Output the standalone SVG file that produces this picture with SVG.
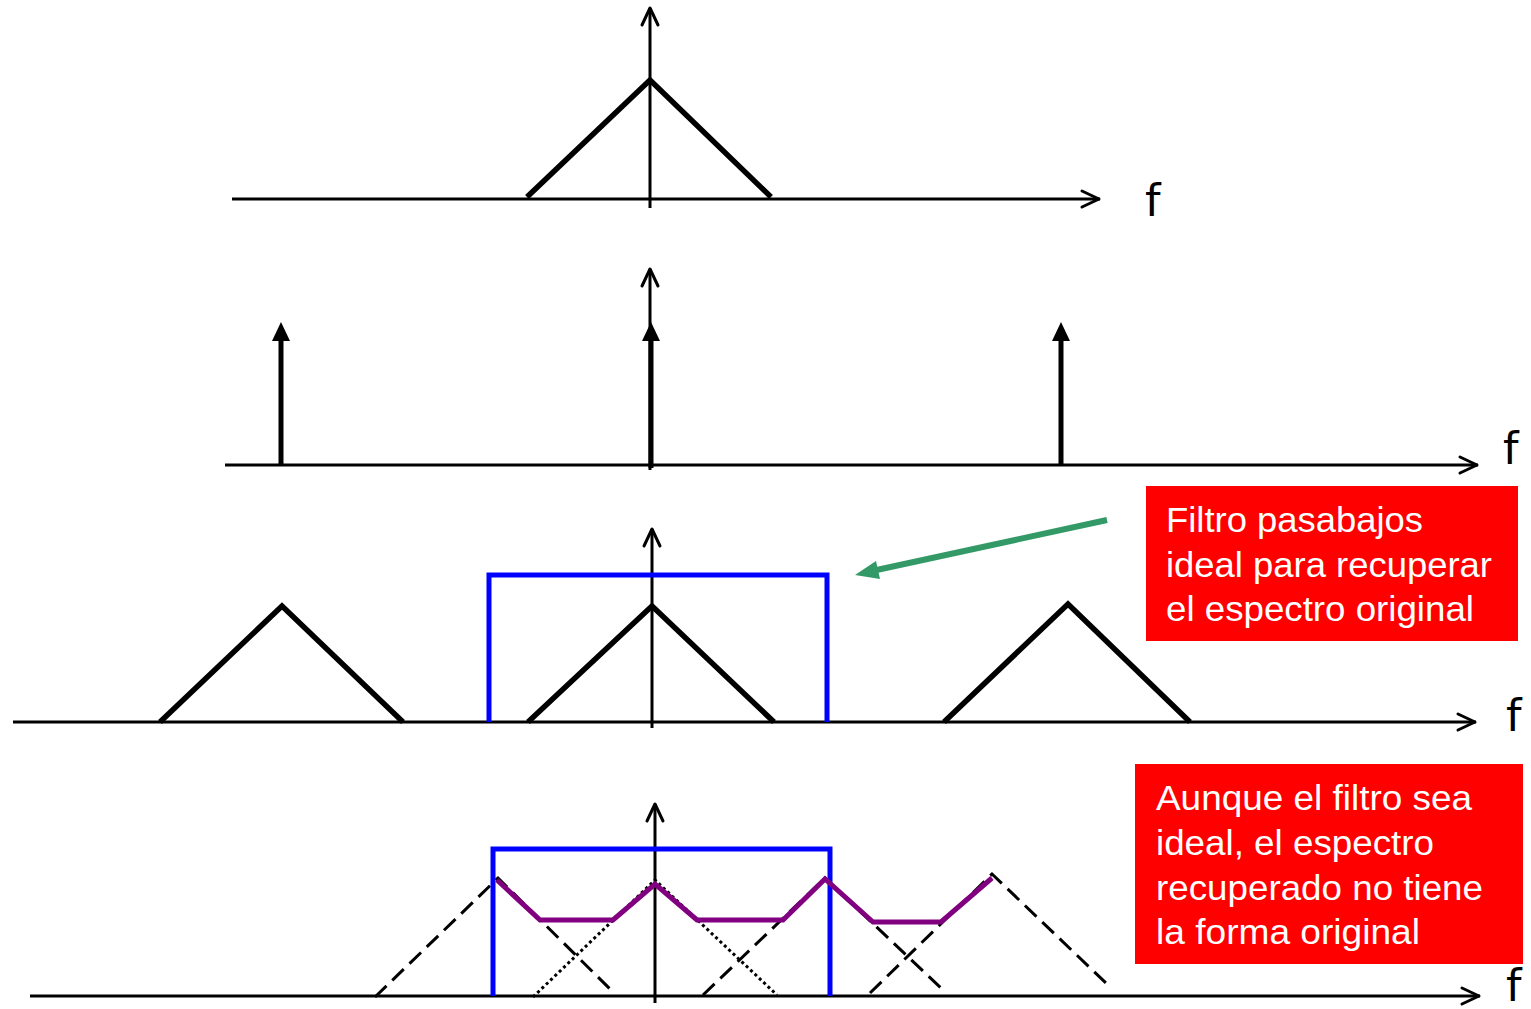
<svg xmlns="http://www.w3.org/2000/svg" width="1531" height="1009" viewBox="0 0 1531 1009">
<style>
.ax{stroke:#000;stroke-width:3;fill:none}
.hd{stroke:#000;stroke-width:3;fill:none;stroke-linecap:round;stroke-linejoin:round}
.tri{stroke:#000;stroke-width:5.5;fill:none;stroke-linejoin:miter}
.imp{stroke:#000;stroke-width:5;fill:none}
.flt{stroke:#0000ff;stroke-width:5;fill:none;stroke-linejoin:miter}
.sum{stroke:#800080;stroke-width:5;fill:none;stroke-linejoin:miter}
.dsh{stroke:#000;stroke-width:3;fill:none;stroke-dasharray:16 8}
.dot{stroke:#000;stroke-width:3;fill:none;stroke-dasharray:3 3}
.f{font-family:"DejaVu Sans","Liberation Sans",sans-serif;font-size:44px;fill:#000}
.lbl{font-family:"Liberation Sans",Arial,sans-serif;font-size:35px;fill:#fff}
.box{fill:#ff0000}
</style>

<g id="panel1">
<line class="ax" x1="232" y1="199" x2="1100" y2="199"/>
<polyline class="hd" points="1082,191 1099,199 1082,207"/>
<line class="ax" x1="650" y1="208" x2="650" y2="8"/>
<polyline class="hd" points="642,25 650,8 658,25"/>
<polyline class="tri" points="527,197 650,80 771,197"/>
<text class="f" x="1145" y="216">f</text>
</g>

<g id="panel2">
<line class="ax" x1="225" y1="465" x2="1478" y2="465"/>
<polyline class="hd" points="1460,457 1477,465 1460,473"/>
<line class="ax" x1="650" y1="470" x2="650" y2="269"/>
<polyline class="hd" points="642,286 650,269 658,286"/>
<line class="imp" x1="281" y1="465" x2="281" y2="340"/>
<path d="M272,341 L281,322 L290,341 Z" fill="#000"/>
<line class="imp" x1="651" y1="468" x2="651" y2="340"/>
<path d="M642,341 L651,322 L660,341 Z" fill="#000"/>
<line class="imp" x1="1061" y1="465" x2="1061" y2="340"/>
<path d="M1052,341 L1061,322 L1070,341 Z" fill="#000"/>
<text class="f" x="1503" y="464">f</text>
</g>

<g id="panel3">
<line class="ax" x1="13" y1="722" x2="1476" y2="722"/>
<polyline class="hd" points="1458,714 1475,722 1458,730"/>
<line class="ax" x1="652" y1="728" x2="652" y2="529"/>
<polyline class="hd" points="644,546 652,529 660,546"/>
<polyline class="tri" points="160,722 282,606 403,722"/>
<polyline class="tri" points="528,722 652,606 774,722"/>
<polyline class="tri" points="944,722 1068,604 1190,722"/>
<polyline class="flt" points="489,722 489,575 827,575 827,722"/>
<text class="f" x="1506" y="731">f</text>
</g>

<g id="panel4">
<line class="ax" x1="30" y1="996" x2="1480" y2="996"/>
<polyline class="hd" points="1462,988 1479,996 1462,1004"/>
<line class="ax" x1="655" y1="1003" x2="655" y2="804"/>
<polyline class="hd" points="647,821 655,804 663,821"/>
<polyline class="dsh" points="375,997 498,878 612,991"/>
<polyline class="dot" points="533,997 655,880 777,995"/>
<polyline class="dsh" points="703,995 825,878 943,990"/>
<polyline class="dsh" points="870,993 992,874 1108,985"/>
<polyline class="flt" points="493,996 493,849 830,849 830,996"/>
<polyline class="sum" points="497,880 540,920 613,920 655,884 697,920 783,920 825,879 873,922 941,922 992,878"/>
<text class="f" x="1506" y="1001">f</text>
</g>

<g id="note1">
<rect class="box" x="1146" y="486" width="372" height="155"/>
<text class="lbl" x="1166" y="532" textLength="257" lengthAdjust="spacingAndGlyphs">Filtro pasabajos</text>
<text class="lbl" x="1166" y="577" textLength="326" lengthAdjust="spacingAndGlyphs">ideal para recuperar</text>
<text class="lbl" x="1166" y="621" textLength="308" lengthAdjust="spacingAndGlyphs">el espectro original</text>
</g>

<g id="note2">
<rect class="box" x="1135" y="764" width="388" height="200"/>
<text class="lbl" x="1156" y="810" textLength="316" lengthAdjust="spacingAndGlyphs">Aunque el filtro sea</text>
<text class="lbl" x="1156" y="855" textLength="278" lengthAdjust="spacingAndGlyphs">ideal, el espectro</text>
<text class="lbl" x="1156" y="900" textLength="327" lengthAdjust="spacingAndGlyphs">recuperado no tiene</text>
<text class="lbl" x="1156" y="944" textLength="264" lengthAdjust="spacingAndGlyphs">la forma original</text>
</g>

<g id="connectors">
<line x1="1107" y1="520" x2="872" y2="571" stroke="#339966" stroke-width="6"/>
<path d="M855,575 L876,561 L880,579 Z" fill="#339966"/>
</g>
</svg>
